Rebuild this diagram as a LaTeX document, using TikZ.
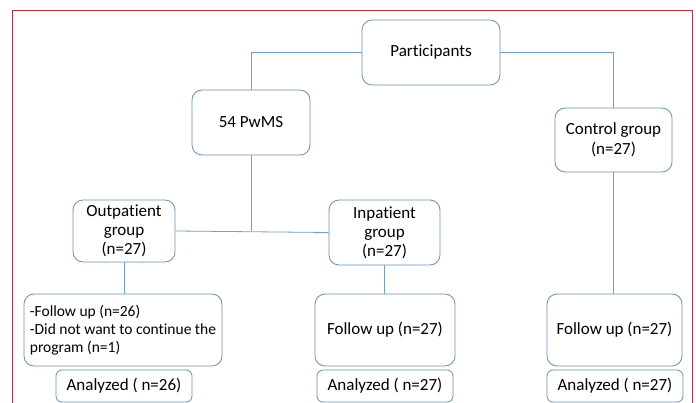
\documentclass[tikz,border=0pt]{standalone}
\usepackage{fontspec}
\setmainfont[Ligatures=NoCommon]{Carlito}
\definecolor{lineblue}{RGB}{110,160,210}
\definecolor{boxblue}{RGB}{100,145,190}
\definecolor{framered}{RGB}{185,50,65}
\tikzset{
  box/.style={draw=boxblue, line width=0.8pt, rounded corners=10pt, align=center,
    font=\fontsize{17}{19}\selectfont, inner sep=2pt, fill=white},
  link/.style={draw=lineblue, line width=0.8pt},
}
\begin{document}
\begin{tikzpicture}[x=1pt,y=-1pt]
\useasboundingbox (0,0) rectangle (696,403);
\fill[white] (0,0) rectangle (696,403);
\draw[framered, line width=0.8pt] (12,410) -- (12,10) -- (692,10) -- (692,410);

\node[box, minimum width=138pt, minimum height=65pt] (part) at (431,52.5) {Participants};
\node[box, minimum width=118pt, minimum height=65pt] (pw) at (251,122.5) {54 PwMS};
\node[box, minimum width=117pt, minimum height=64pt, font=\fontsize{17}{20}\selectfont] (ctrl) at (613.5,140) {Control group\\(n=27)};
\node[box, minimum width=102pt, minimum height=62pt] (out) at (124,231) {Outpatient\\group\\(n=27)};
\node[box, minimum width=111pt, minimum height=65pt] (inp) at (384.5,232.5) {Inpatient\\group\\(n=27)};
\node[box, minimum width=198pt, minimum height=72pt, align=left, font=\fontsize{15.5}{18}\selectfont] (fu1) at (123,330) {-Follow up (n=26)\\-Did not want to continue the\\program (n=1)};
\node[box, minimum width=140pt, minimum height=72pt] (fu2) at (385,330) {Follow up (n=27)};
\node[box, minimum width=135pt, minimum height=72pt] (fu3) at (614.5,330) {Follow up (n=27)};
\node[box, rounded corners=6pt, minimum width=136pt, minimum height=32pt] (an1) at (124,386) {Analyzed ( n=26)};
\node[box, rounded corners=6pt, minimum width=136pt, minimum height=32pt] (an2) at (385,386) {Analyzed ( n=27)};
\node[box, rounded corners=6pt, minimum width=136pt, minimum height=32pt] (an3) at (615,386) {Analyzed ( n=27)};

\coordinate (junc) at (251,231);
\draw[link] (part.west) -| (pw.north);
\draw[link] (part.east) -| (ctrl.north);
\draw[link] (pw.south) -- (junc);
\draw[link] (out.east) -- (inp.west);
\draw[link] (out.south) -- (out.south |- fu1.north);
\draw[link] (inp.south) -- (inp.south |- fu2.north);
\draw[link] (ctrl.south) -- (ctrl.south |- fu3.north);
\end{tikzpicture}
\end{document}
